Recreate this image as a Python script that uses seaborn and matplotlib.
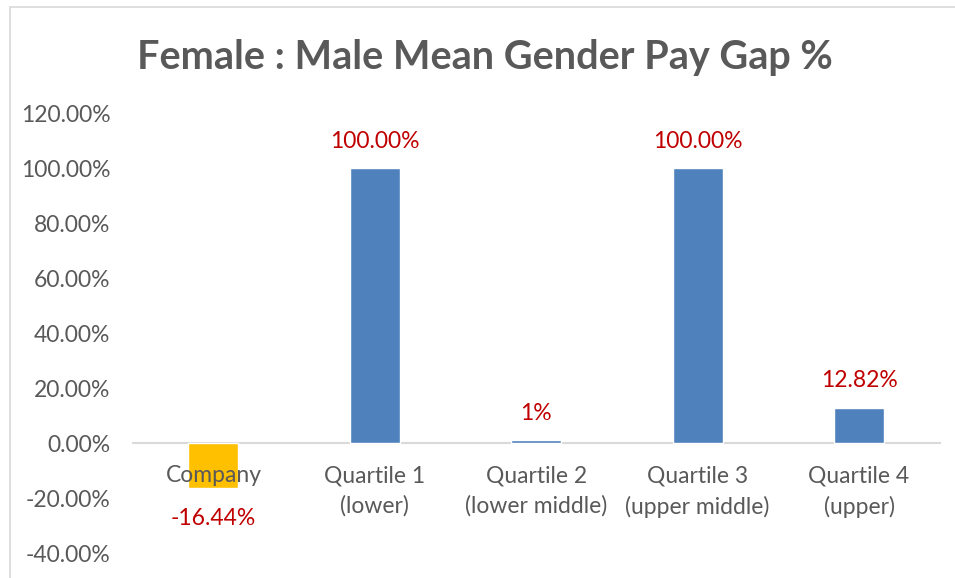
import matplotlib
matplotlib.use('Agg')
import matplotlib.pyplot as plt
import seaborn as sns
from matplotlib.lines import Line2D
from matplotlib.ticker import FuncFormatter

categories = ['Company', 'Quartile 1\n(lower)', 'Quartile 2\n(lower middle)',
              'Quartile 3\n(upper middle)', 'Quartile 4\n(upper)']
values = [-16.44, 100.00, 1.0, 100.00, 12.82]
labels = ['-16.44%', '100.00%', '1%', '100.00%', '12.82%']
colors = ['#FFC000', '#4F81BD', '#4F81BD', '#4F81BD', '#4F81BD']

sns.set_style('white')
plt.rcParams['font.family'] = ['Lato', 'DejaVu Sans']

fig = plt.figure(figsize=(9.55, 5.78), dpi=100)
ax = fig.add_axes([0.139, 0.043, 0.845, 0.761])

sns.barplot(x=categories, y=values, hue=categories, palette=colors,
            legend=False, width=0.31, ax=ax, saturation=1)
for p in ax.patches:
    p.set_zorder(1)

ax.set_ylim(-40, 120)
ax.set_yticks(range(-40, 121, 20))
ax.yaxis.set_major_formatter(FuncFormatter(lambda v, p: f'{v:.2f}%'))
ax.set_xlim(-0.5, 4.5)

# tick labels drawn over the bars, like the original
ax.set_axisbelow(False)
for s in ['top', 'right', 'left']:
    ax.spines[s].set_visible(False)
ax.spines['bottom'].set_position(('data', 0))
ax.spines['bottom'].set_color('#D9D9D9')
ax.spines['bottom'].set_linewidth(1.5)
ax.spines['bottom'].set_zorder(0.5)
ax.tick_params(axis='both', length=0, labelsize=16.5, labelcolor='#595959')
ax.tick_params(axis='x', pad=16)
ax.tick_params(axis='y', pad=16)
for t in ax.get_xticklabels():
    t.set_linespacing(1.5)

for i, (v, lab) in enumerate(zip(values, labels)):
    if v >= 0:
        ax.annotate(lab, (i, v), xytext=(0, 12), textcoords='offset points',
                    ha='center', va='bottom', color='#C00000', fontsize=16.5)
    else:
        ax.annotate(lab, (i, v), xytext=(0, -14), textcoords='offset points',
                    ha='center', va='top', color='#C00000', fontsize=16.5)

ax.set_ylabel('')
fig.text(0.508, 0.9, 'Female : Male Mean Gender Pay Gap %', ha='center', va='center',
         fontsize=28.5, fontweight='bold', color='#595959')

# chart border (left and top edges)
fig.add_artist(Line2D([10 / 955, 10 / 955], [0, 1 - 7 / 578], color='#D9D9D9', lw=1.2,
                      transform=fig.transFigure))
fig.add_artist(Line2D([10 / 955, 1], [1 - 7 / 578, 1 - 7 / 578], color='#D9D9D9', lw=1.2,
                      transform=fig.transFigure))

fig.savefig('out.png', dpi=100)
